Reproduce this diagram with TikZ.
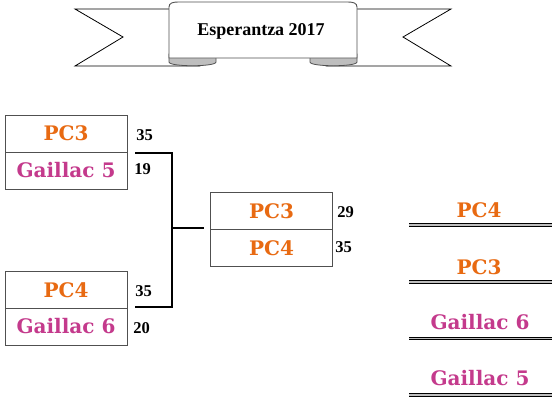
\documentclass[tikz,border=0pt]{standalone}
\usepackage{fontspec}
\setmainfont{Liberation Serif}
\newfontfamily\teamfont{DejaVu Serif}
\usepackage{tikz}
\definecolor{teamorange}{RGB}{232,106,18}
\definecolor{teampink}{RGB}{196,58,140}
\definecolor{boxgray}{RGB}{80,80,80}
\definecolor{rollgray}{RGB}{190,190,190}

\begin{document}
\begin{tikzpicture}[x=1pt,y=-1pt,
    cell/.style={draw=boxgray, fill=white, line width=0.9pt, minimum width=122pt, minimum height=37pt, inner sep=0pt, font=\teamfont\bfseries\fontsize{20}{22}\selectfont},
    rank/.style={inner sep=0pt, font=\teamfont\bfseries\fontsize{20}{22}\selectfont},
    score/.style={inner sep=0pt, font=\bfseries\fontsize{16.5}{18}\selectfont},
    bracket/.style={line width=1.8pt},
    podium/.style={draw=black, double=rollgray, line width=1.1pt, double distance=1.6pt}]
    \useasboundingbox (0,0) rectangle (552,405);

    \draw[fill=white, line width=0.8pt] (75,9) -- (200,9) -- (200,66) -- (75,66) -- (123,37) -- cycle;
    \draw[fill=white, line width=0.8pt] (451,9) -- (326,9) -- (326,66) -- (451,66) -- (403,37) -- cycle;
    \draw[fill=rollgray, draw=boxgray, line width=0.8pt] (169,54) -- (169,62) .. controls (169,67) and (216,67) .. (216,62) -- (216,54) -- cycle;
    \draw[fill=rollgray, draw=boxgray, line width=0.8pt] (310,54) -- (310,62) .. controls (310,67) and (357,67) .. (357,62) -- (357,54) -- cycle;
    \draw[fill=white, draw=boxgray, line width=0.9pt] (169,58) -- (169,7) .. controls (169,3) and (173,2) .. (178,2) -- (348,2) .. controls (353,2) and (357,3) .. (357,7) -- (357,58) -- cycle;
    \node[inner sep=0pt, font=\bfseries\fontsize{18}{20}\selectfont] (title) at (261,31) {Esperantza 2017};

    \node[cell, text=teamorange] (semi1a) at (66,133.5) {PC3};
    \node[cell, text=teampink] (semi1b) at (66,170.5) {Gaillac 5};
    \node[cell, text=teamorange] (semi2a) at (66,290) {PC4};
    \node[cell, text=teampink] (semi2b) at (66,326.5) {Gaillac 6};
    \node[cell, text=teamorange] (finala) at (271.5,211) {PC3};
    \node[cell, text=teamorange] (finalb) at (271.5,248) {PC4};

    \node[score] (s1a) at (144.5,135.5) {35};
    \node[score] (s1b) at (142.5,169) {19};
    \node[score] (s2a) at (143.5,291) {35};
    \node[score] (s2b) at (141.5,328.5) {20};
    \node[score] (sfa) at (345.5,212) {29};
    \node[score] (sfb) at (343.5,247.5) {35};

    \coordinate (win1) at (135,153);
    \coordinate (win2) at (135,307);
    \coordinate (join) at (172,228);
    \coordinate (tofinal) at (204,228);
    \draw[bracket] (win1) -| (join) |- (win2);
    \draw[bracket] (join) -- (tofinal);

    \node[rank, text=teamorange] (first) at (479,210) {PC4};
    \node[rank, text=teamorange] (second) at (479,267) {PC3};
    \node[rank, text=teampink] (third) at (480,322.5) {Gaillac 6};
    \node[rank, text=teampink] (fourth) at (480,378) {Gaillac 5};
    \draw[podium] (409,225) -- (552,225);
    \draw[podium] (409,282) -- (552,282);
    \draw[podium] (409,338.5) -- (552,338.5);
    \draw[podium] (409,395) -- (552,395);
\end{tikzpicture}
\end{document}
